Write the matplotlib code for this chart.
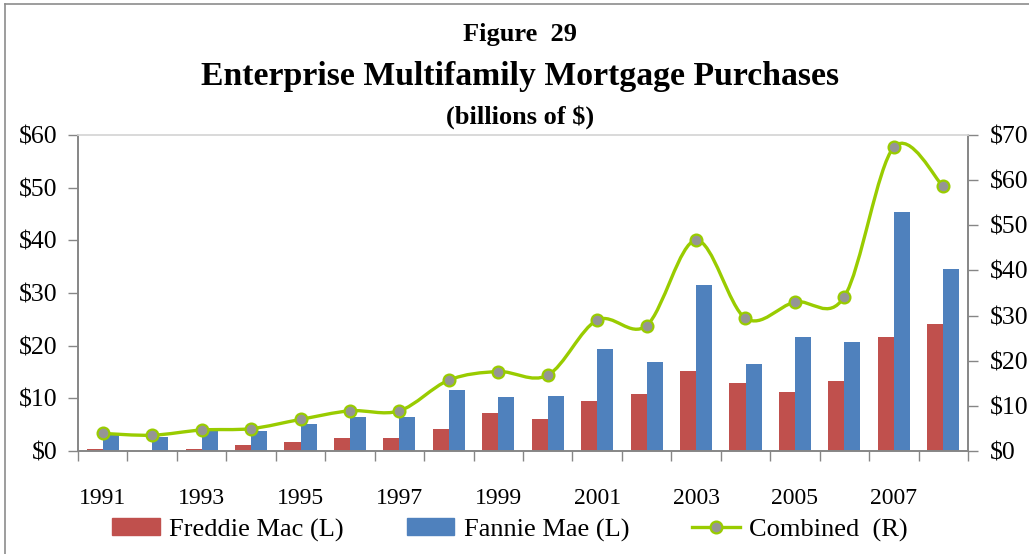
import numpy as np
import matplotlib
matplotlib.use("Agg")
import matplotlib.pyplot as plt
from matplotlib.path import Path
from matplotlib.patches import PathPatch, Patch
from matplotlib.lines import Line2D

years = list(range(1991, 2009))
freddie = [0.4, 0.0, 0.4, 1.1, 1.7, 2.5, 2.5, 4.2, 7.2, 6.1, 9.5, 10.8, 15.2, 12.9, 11.2, 13.3, 21.6, 24.1]
fannie = [3.4, 2.7, 4.2, 3.8, 5.1, 6.45, 6.45, 11.6, 10.25, 10.44, 19.4, 16.9, 31.5, 16.5, 21.6, 20.7, 45.4, 34.55]
combined = [3.9, 3.5, 4.65, 4.95, 7.0, 8.9, 8.9, 15.7, 17.6, 16.8, 29.0, 27.8, 46.7, 29.4, 33.0, 34.2, 67.3, 58.6]
left_ticks = [0, 10, 20, 30, 40, 50, 60]
right_ticks = [0, 10, 20, 30, 40, 50, 60, 70]

RED = "#C0504D"
BLUE = "#4F81BD"
GREEN = "#99CC00"
GRAY = "#868686"
SERIF = ["Liberation Serif", "DejaVu Serif"]

plt.rcParams["font.family"] = SERIF


def smooth_path(xs, ys):
    # excel-style smoothed line: cubic bezier segments through the points
    pts = np.column_stack([xs, ys])
    n = len(pts)
    verts = [pts[0]]
    codes = [Path.MOVETO]
    for i in range(n - 1):
        p0 = pts[i - 1] if i > 0 else pts[i]
        p1 = pts[i]
        p2 = pts[i + 1]
        p3 = pts[i + 2] if i + 2 < n else pts[i + 1]
        c1 = p1 + (p2 - p0) / 6.0
        c2 = p2 - (p3 - p1) / 6.0
        verts += [c1, c2, p2]
        codes += [Path.CURVE4] * 3
    return Path(verts, codes)


def main():
    fig = plt.figure(figsize=(10.29, 5.54), dpi=100)
    ax = fig.add_axes([78 / 1029, 1 - 451 / 554, 890 / 1029, 316 / 554])
    ax2 = ax.twinx()

    x = np.arange(len(years))
    w = 0.325
    ax.bar(x - w / 2, freddie, w, color=RED, zorder=2)
    ax.bar(x + w / 2, fannie, w, color=BLUE, zorder=2)

    ax2.add_patch(PathPatch(smooth_path(x, combined), facecolor="none",
                            edgecolor=GREEN, lw=2.4, zorder=3))
    ax2.plot(x, combined, ls="none", marker="o", ms=8.5, mfc="#959595",
             mec=GREEN, mew=1.6, zorder=4)

    ax.set_xlim(-0.5, len(years) - 0.5)
    ax.set_ylim(0, 60)
    ax2.set_ylim(0, 70)

    ax.set_yticks(left_ticks)
    ax.set_yticklabels(["$%d" % v for v in left_ticks])
    ax2.set_yticks(right_ticks)
    ax2.set_yticklabels(["$%d" % v for v in right_ticks])

    # boundaries get the tick marks, labels sit under every other category
    ax.set_xticks(np.arange(len(years) + 1) - 0.5)
    ax.set_xticklabels([])
    ax.set_xticks(x[::2], minor=True)
    ax.set_xticklabels([str(y) for y in years[::2]], minor=True)
    ax.tick_params(axis="x", which="major", direction="out", length=7, width=1, color=GRAY)
    ax.tick_params(axis="x", which="minor", length=0, pad=27, labelsize=17)
    ax.tick_params(axis="y", direction="out", length=7, width=1, color=GRAY, pad=8, labelsize=18.5)
    ax2.tick_params(axis="y", direction="out", length=7, width=1, color=GRAY, pad=9, labelsize=18.5)

    for a in (ax, ax2):
        for side in ("left", "right", "bottom"):
            a.spines[side].set_color(GRAY)
            a.spines[side].set_linewidth(1.2)
        a.spines["top"].set_color("#D9D9D9")
        a.spines["top"].set_linewidth(1.2)

    fig.text(0.505, 1 - 35 / 554, "Figure  29", ha="center", va="center",
             fontsize=19, fontweight="bold")
    fig.text(0.505, 1 - 77 / 554, "Enterprise Multifamily Mortgage Purchases",
             ha="center", va="center", fontsize=24.3, fontweight="bold")
    fig.text(0.505, 1 - 117 / 554, "(billions of $)", ha="center", va="center",
             fontsize=19, fontweight="bold")

    handles = [
        Patch(color=RED),
        Patch(color=BLUE),
        Line2D([], [], color=GREEN, lw=2.4, marker="o", ms=8.5, mfc="#959595",
               mec=GREEN, mew=1.6),
    ]
    fig.legend(handles, ["Freddie Mac (L)", "Fannie Mae (L)", "Combined  (R)"],
               loc="center", bbox_to_anchor=(510 / 1029, 1 - 530 / 554), ncol=3,
               frameon=False, fontsize=19, handlelength=1.8, handleheight=0.6,
               handletextpad=0.35, columnspacing=2.4, borderaxespad=0)

    # chart outline (only left and top edges are in frame)
    fig.add_artist(Line2D([5 / 1029, 5 / 1029], [0, 1 - 4 / 554], color="#8C8C8C", lw=1.2))
    fig.add_artist(Line2D([5 / 1029, 1], [1 - 4 / 554, 1 - 4 / 554], color="#8C8C8C", lw=1.2))

    fig.savefig("out.png", dpi=100)


if __name__ == "__main__":
    main()
